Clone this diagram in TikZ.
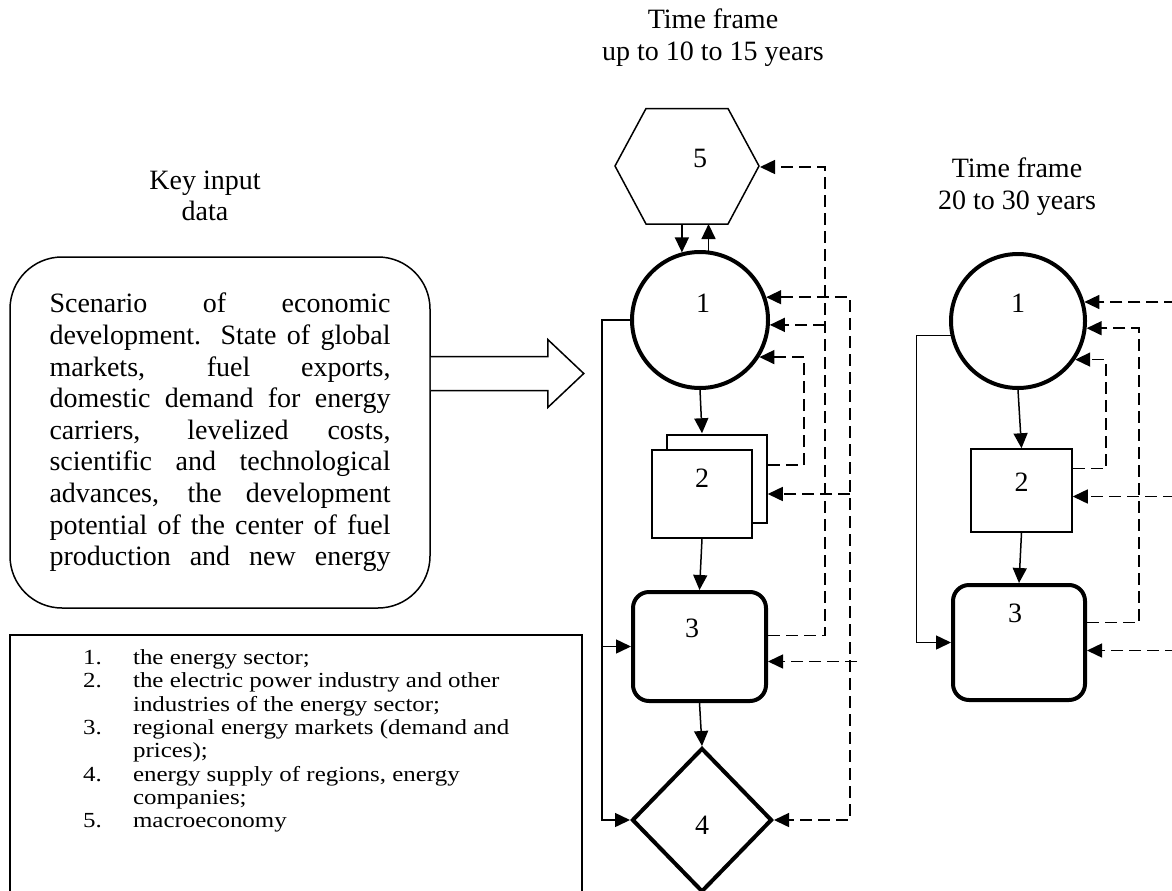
\documentclass[tikz,border=0pt]{standalone}
\usepackage{fontspec}
\setmainfont{Liberation Serif}
\usepackage{graphicx}
\usetikzlibrary{shapes.geometric,shadows,arrows.meta}
\newcommand{\jline}[1]{\makebox[341pt][s]{#1}}
\begin{document}
\begin{tikzpicture}[x=1pt,y=-1pt,font=\fontsize{28}{31.6}\selectfont,
  >={Triangle[length=15pt,width=14pt]},
  thinline/.style={line width=1.5pt},
  arr/.style={thinline,->},
  dasharr/.style={thinline,->,dash pattern=on 12pt off 6pt},
  ring/.style={circle,draw,line width=4pt,inner sep=0pt},
  sq/.style={rectangle,draw,fill=white,line width=1.5pt,inner sep=0pt},
  rbox/.style={rectangle,draw,rounded corners=16pt,line width=4pt,inner sep=0pt},
  dia/.style={diamond,draw,line width=4pt,inner sep=0pt}]
\useasboundingbox (0,0) rectangle (1172,891);

\node[align=center] (tkey) at (205,196) {Key input\\data};
\node[align=center] (tmid) at (713,37.5) {Time frame\\up to 10 to 15 years};
\node[align=center] (tright) at (1017,186.5) {Time frame\\20 to 30 years};

\node[draw,thinline,rounded corners=52pt,minimum width=420pt,minimum height=351pt,
  align=left,inner sep=0pt] (inp) at (220,432.5) {\jline{Scenario of economic}\\
  \jline{development. State of global}\\ \jline{markets, fuel exports,}\\
  \jline{domestic demand for energy}\\ \jline{carriers, levelized costs,}\\
  \jline{scientific and technological}\\ \jline{advances, the development}\\
  \jline{potential of the center of fuel}\\ \jline{production and new energy}};
\draw[thinline,fill=white] ([yshift=76pt]inp.east) -- ++(117,0) -- ++(0,-17) -- ++(36,34)
  -- ++(-36,34) -- ++(0,-17) -- ++(-117,0);

\node[draw,thinline,minimum width=572pt,minimum height=258pt] (leg) at (296,764) {};
\node[anchor=north west,inner sep=0pt,font=\fontsize{21.5}{23.3}\selectfont] (legtxt) at (83,648)
  {\scalebox{1.16}[1]{\begin{tabular}{@{}l@{}}
  \makebox[43pt][l]{1.}the energy sector;\\
  \makebox[43pt][l]{2.}the electric power industry and other\\
  \hspace*{43pt}industries of the energy sector;\\
  \makebox[43pt][l]{3.}regional energy markets (demand and\\
  \hspace*{43pt}prices);\\
  \makebox[43pt][l]{4.}energy supply of regions, energy\\
  \hspace*{43pt}companies;\\
  \makebox[43pt][l]{5.}macroeconomy
  \end{tabular}}};

\draw[thinline] (615,166) -- (646,108.5) -- (728,108.5) -- (759,166) -- (728,224) -- (646,224) -- cycle;
\coordinate (h5e) at (760,167);
\coordinate (h5s) at (687,224);
\node (m5) at (700,158) {5};
\node[ring,minimum size=136pt,label={[xshift=3pt,yshift=17pt]center:1}] (m1) at (700,320) {};
\node[sq,minimum width=100pt,minimum height=88pt,label={[yshift=16pt]center:2},
  copy shadow={shadow xshift=15pt,shadow yshift=15pt,draw,fill=white,line width=1.5pt}] (m2) at (702,494) {};
\node[rbox,minimum width=133pt,minimum height=109pt,label={[xshift=-7.5pt,yshift=18.5pt]center:3}] (m3) at (699.5,646.5) {};
\node[dia,minimum width=140pt,minimum height=144pt,label={[yshift=-5pt]center:4}] (m4) at (702,820) {};

\node[ring,minimum size=134pt,label={[yshift=18pt]center:1}] (r1) at (1018,321) {};
\node[sq,minimum width=101pt,minimum height=83pt,label={[yshift=8.5pt]center:2}] (r2) at (1021.5,490.5) {};
\node[rbox,minimum width=132pt,minimum height=115pt,label={[xshift=-4pt,yshift=29.5pt]center:3}] (r3) at (1019,642.5) {};

\draw[arr] (m1.105 |- h5s) -- (m1.105);
\draw[arr] (m1.83) -- (m1.83 |- h5s);
\draw[arr] (m1.south) -- ([yshift=16pt]m2.north);
\draw[arr] (m2.south) -- (m3.north);
\draw[arr] (m3.south) -- (m4.north);
\draw[arr] (m1.west) -- ++(-28,0) coordinate (lft) |- (m3.west);
\draw[arr] (lft) |- (m4.west);

\draw[dasharr] ([yshift=11pt]m3.east) -- ++(57,0) coordinate (v1) |- (h5e);
\draw[dasharr] (v1 |- m1.-4) -- (m1.-4);
\draw[dasharr] ([xshift=15pt,yshift=29pt]m2.east) -- ++(36,0) |- (m1.-32);
\coordinate (v3) at (850,0);
\draw[dasharr,<->] (m1.19) -| (v3 |- m4.east) -- (m4.east);
\draw[dasharr] (v3 |- m2.east) -- ([xshift=15pt]m2.east);
\draw[dasharr] ([yshift=-15pt]m3.east) ++(89,0) -- ([yshift=-15pt]m3.east);

\draw[arr] (r1.south) -- (r2.north);
\draw[arr] (r2.south) -- (r3.north);
\draw[arr] (r1.192) -- ++(-34,0) |- (r3.west);
\draw[dasharr] ([yshift=20pt]r3.east) -- ++(52,0) |- (r1.-6);
\draw[dasharr] ([yshift=22pt]r2.east) -- ++(33,0) |- (r1.-34);
\draw[dasharr] (r1.16) ++(92,0) -- (r1.16);
\draw[dasharr] ([yshift=-6pt]r2.east) ++(102,0) -- ([yshift=-6pt]r2.east);
\draw[dasharr] ([yshift=-8pt]r3.east) ++(90,0) -- ([yshift=-8pt]r3.east);
\end{tikzpicture}
\end{document}
